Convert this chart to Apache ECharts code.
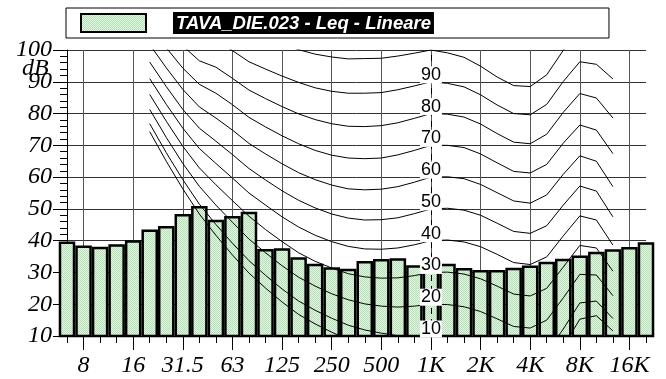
<!DOCTYPE html>
<html>
<head>
<meta charset="utf-8">
<script src="https://cdn.jsdelivr.net/npm/echarts@6/dist/echarts.min.js"></script>
<style>
html, body { margin: 0; padding: 0; background: #fff; }
#main { width: 666px; height: 379px; }
</style>
</head>
<body>
<div id="main"></div>
<script>
'use strict';

// 1/3 octave bands on the x axis
var bands = ['6.3', '8', '10', '12.5', '16', '20', '25', '31.5', '40', '50', '63', '80', '100', '125',
    '160', '200', '250', '315', '400', '500', '630', '800', '1K', '1.25K', '1.6K', '2K', '2.5K',
    '3.15K', '4K', '5K', '6.3K', '8K', '10K', '12.5K', '16K', '20K'];

// Leq per band (dB, linear)
var leq = [39.7, 38.5, 38.1, 38.9, 40.1, 43.5, 44.6, 48.4, 50.9, 46.6, 47.8, 49.1, 37.4, 37.6,
    34.8, 32.7, 31.6, 31.2, 33.6, 34.2, 34.5, 32.3, 32.0, 32.7, 31.4, 30.8, 30.8,
    31.5, 32.2, 33.4, 34.3, 35.3, 36.5, 37.3, 38.0, 39.5];

// bands of the isophonic curves, 20 Hz .. 12.5 kHz
var curveBands = ['20', '25', '31.5', '40', '50', '63', '80', '100', '125', '160', '200', '250',
    '315', '400', '500', '630', '800', '1K', '1.25K', '1.6K', '2K', '2.5K', '3.15K', '4K', '5K',
    '6.3K', '8K', '10K', '12.5K'];

var curveThreshold = [74.3, 65.0, 56.3, 48.4, 41.7, 35.5, 29.8, 25.1, 20.7, 16.8, 13.8, 11.2, 8.9, 7.2, 6.0, 5.0, 4.4, 4.2, 3.7, 2.6, 1.0, -1.2, -3.6, -3.9, -1.1, 6.6, 15.3, 16.4, 11.6];
var curve10 = [76.8, 67.7, 59.2, 51.5, 45.1, 39.2, 33.7, 29.1, 24.8, 21.0, 18.1, 15.6, 13.4, 11.9, 10.9, 10.1, 9.9, 10, 9.7, 8.7, 7.2, 5.0, 2.6, 2.2, 4.8, 12.2, 20.4, 21.0, 15.5];
var curve20 = [81.3, 72.5, 64.3, 57.1, 51.2, 45.8, 40.5, 36.2, 32.1, 28.5, 25.7, 23.3, 21.4, 20.1, 19.4, 19.1, 19.4, 20, 19.9, 19.2, 17.7, 15.4, 13.0, 12.5, 15.0, 22.0, 29.4, 29.2, 22.7];
var curve30 = [86.0, 77.6, 69.7, 62.9, 57.6, 52.6, 47.7, 43.5, 39.7, 36.2, 33.5, 31.4, 29.6, 28.6, 28.2, 28.3, 29.0, 30, 30.1, 29.5, 28.0, 25.7, 23.2, 22.6, 25.0, 31.7, 38.5, 37.7, 30.4];
var curve40 = [91.0, 82.9, 75.4, 69.0, 64.3, 59.7, 55.0, 51.2, 47.5, 44.3, 41.7, 39.7, 38.2, 37.4, 37.3, 37.7, 38.7, 40, 40.2, 39.6, 38.1, 35.7, 33.1, 32.5, 34.9, 41.5, 47.8, 46.5, 38.6];
var curve50 = [96.2, 88.5, 81.3, 75.4, 71.3, 67.1, 62.7, 59.1, 55.7, 52.7, 50.3, 48.4, 47.1, 46.5, 46.6, 47.2, 48.5, 50, 50.2, 49.6, 48.0, 45.5, 42.9, 42.3, 44.7, 51.2, 57.2, 55.6, 47.5];
var curve60 = [101.7, 94.4, 87.6, 82.1, 78.6, 74.8, 70.6, 67.3, 64.2, 61.4, 59.2, 57.5, 56.3, 56.0, 56.2, 57.0, 58.4, 60, 60.1, 59.5, 57.7, 55.1, 52.5, 51.8, 54.4, 60.9, 66.7, 65.0, 57.0];
var curve70 = [107.6, 100.7, 94.3, 89.2, 86.4, 82.8, 78.8, 75.8, 73.0, 70.5, 68.4, 66.9, 66.0, 65.8, 66.0, 67.0, 68.4, 70, 70.0, 69.3, 67.3, 64.5, 61.8, 61.3, 64.0, 70.7, 76.4, 74.8, 67.4];
var curve80 = [113.7, 107.3, 101.3, 96.6, 94.6, 91.1, 87.4, 84.7, 82.2, 79.9, 78.1, 76.8, 76.0, 75.9, 76.2, 77.1, 78.5, 80, 79.8, 78.9, 76.7, 73.7, 71.0, 70.5, 73.5, 80.4, 86.3, 84.9, 78.6];
var curve90 = [120.3, 114.4, 108.7, 104.4, 103.2, 99.8, 96.3, 94.0, 91.8, 89.8, 88.1, 87.0, 86.4, 86.4, 86.6, 87.5, 88.7, 90, 89.5, 88.4, 85.9, 82.7, 80.0, 79.6, 82.9, 90.1, 96.3, 95.5, 90.9];
var curve100 = [127.2, 121.9, 116.6, 112.6, 112.3, 108.9, 105.6, 103.6, 101.8, 100.1, 98.7, 97.8, 97.2, 97.3, 97.4, 98.1, 99.0, 100, 99.1, 97.7, 94.9, 91.5, 88.8, 88.5, 92.2, 99.9, 106.6, 106.4, 104.3];

// phon labels written at 1 kHz
var phonLabels = [10, 20, 30, 40, 50, 60, 70, 80, 90];

var legendName = 'TAVA_DIE.023 - Leq - Lineare';

// dotted light green fill of the bars
var pat = document.createElement('canvas');
pat.width = 2;
pat.height = 2;
var pctx = pat.getContext('2d');
pctx.fillStyle = '#e6f6e6';
pctx.fillRect(0, 0, 2, 2);
pctx.fillStyle = '#b3e0b3';
pctx.fillRect(0, 0, 1, 1);
pctx.fillRect(1, 1, 1, 1);
var barFill = { image: pat, repeat: 'repeat' };

function isMajor(index) {
    return index % 3 === 1;
}

var serif = { fontFamily: 'Liberation Serif', fontStyle: 'italic', color: '#000' };

var curveSeries = [curveThreshold, curve10, curve20, curve30, curve40, curve50, curve60,
    curve70, curve80, curve90, curve100].map(function (vals) {
    return {
        type: 'line',
        silent: true,
        symbol: 'none',
        z: 3,
        lineStyle: { color: '#000', width: 1 },
        data: curveBands.map(function (b, k) { return [b, vals[k]]; })
    };
});

var myChart = echarts.init(document.getElementById('main'), null, { renderer: 'canvas' });

myChart.setOption({
    animation: false,
    backgroundColor: '#fff',
    grid: { left: 67, right: 20, top: 50, bottom: 43 },
    legend: {
        data: [legendName],
        icon: 'rect',
        left: 66,
        top: 8,
        padding: [4, 175, 4, 14],
        borderColor: '#000',
        borderWidth: 1,
        backgroundColor: '#fff',
        itemWidth: 65,
        itemHeight: 18,
        selectedMode: false,
        formatter: function (name) { return '{gap|}{t|' + name + '}'; },
        textStyle: {
            rich: {
                gap: { width: 22 },
                t: {
                    color: '#fff', backgroundColor: '#000', fontFamily: 'Liberation Sans',
                    fontWeight: 'bold', fontStyle: 'italic', fontSize: 18.5, lineHeight: 19,
                    padding: [2, 3, 1, 3]
                }
            }
        }
    },
    graphic: [{
        type: 'text', left: 22, top: 57,
        style: { text: 'dB', font: 'italic 24px "Liberation Serif"', fill: '#000' }
    }],
    xAxis: [{
        type: 'category',
        data: bands,
        boundaryGap: false,
        axisLine: { lineStyle: { color: '#000', width: 1 } },
        axisTick: { interval: 0, length: 7, lineStyle: { color: '#000' } },
        axisLabel: Object.assign({ interval: isMajor, margin: 18, fontSize: 24 }, serif),
        splitLine: { show: true, interval: isMajor, lineStyle: { color: '#555', width: 1 } }
    }, {
        type: 'category',
        data: bands,
        boundaryGap: false,
        position: 'bottom',
        axisLine: { show: false },
        axisTick: { interval: isMajor, length: 14, lineStyle: { color: '#000' } },
        axisLabel: { show: false },
        splitLine: { show: false }
    }],
    yAxis: {
        type: 'value',
        min: 10,
        max: 100,
        interval: 10,
        axisLine: { show: true, lineStyle: { color: '#000', width: 1 } },
        axisTick: { show: true, length: 14, lineStyle: { color: '#000' } },
        minorTick: { show: true, splitNumber: 5, length: 7, lineStyle: { color: '#000' } },
        splitLine: { show: true, lineStyle: { color: '#333', width: 1 } },
        axisLabel: Object.assign({ margin: 15, fontSize: 24 }, serif)
    },
    series: [{
        // dashed 1 kHz reference line, behind the bars
        type: 'line',
        data: [],
        z: 1,
        silent: true,
        markLine: {
            symbol: 'none',
            silent: true,
            label: { show: false },
            lineStyle: { color: '#000', type: [6, 5], width: 1 },
            data: [{ xAxis: '1K' }]
        }
    }, {
        name: legendName,
        type: 'bar',
        data: leq,
        barWidth: '100%',
        z: 2,
        itemStyle: { color: barFill, borderColor: '#000', borderWidth: 2.5 }
    }].concat(curveSeries).concat([{
        // phon values on white boxes at 1 kHz
        type: 'scatter',
        silent: true,
        z: 5,
        symbol: 'rect',
        symbolSize: [22, 17],
        symbolOffset: [0, -7],
        itemStyle: { color: '#fff', opacity: 1 },
        data: phonLabels.map(function (v) { return ['1K', v]; }),
        label: {
            show: true,
            position: 'inside',
            formatter: function (p) { return p.value[1]; },
            fontFamily: 'Liberation Sans',
            fontSize: 18,
            color: '#000',
            opacity: 1
        }
    }])
});
</script>
</body>
</html>
